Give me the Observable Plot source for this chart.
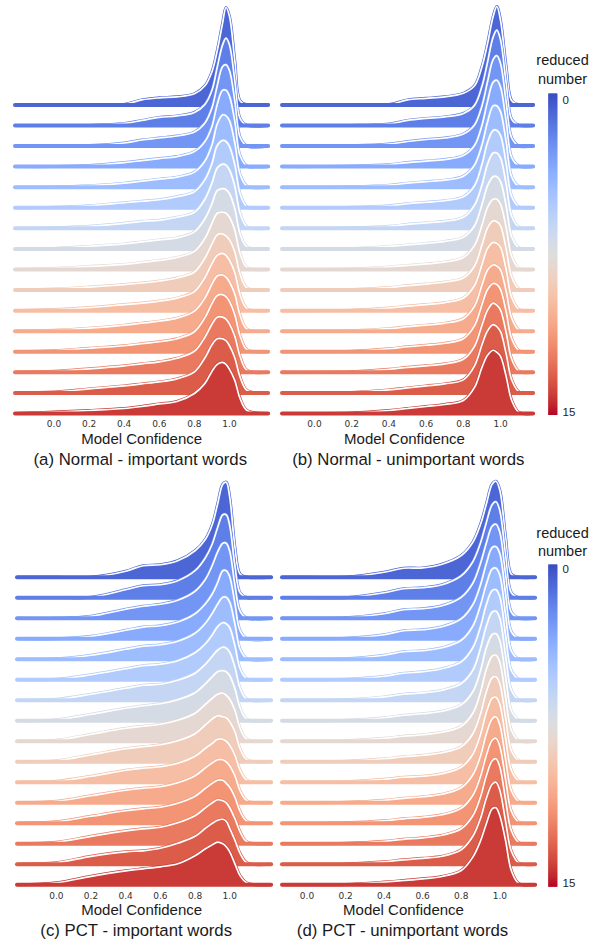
<!DOCTYPE html>
<html>
<head>
<meta charset="utf-8">
<script src="https://cdn.jsdelivr.net/npm/d3@7"></script>
<script src="https://cdn.jsdelivr.net/npm/@observablehq/plot@0.6"></script>
<style>
  body { margin: 0; background: #fff; }
  #root { position: relative; width: 598px; height: 943px; overflow: hidden; font-family: "Liberation Sans", Arial, sans-serif; color: #1a1a1a; }
  .panel { position: absolute; }
  .lbl { position: absolute; transform: translate(-50%, -50%); white-space: nowrap; line-height: 1; }
  .axlbl { font-size: 15px; }
  .cap { font-size: 16.8px; }
  .cbt { font-size: 14.5px; }
</style>
</head>
<body>
<div id="root"></div>
<script>
// ---------------- data ----------------
// sample positions on the "Model Confidence" axis
const confidenceGrid = [0.0, 0.2, 0.4, 0.5, 0.6, 0.7, 0.8, 0.86, 0.9, 0.93, 0.96, 0.98, 1.0, 1.03, 1.06, 1.1];
const tickValues = [0.0, 0.2, 0.4, 0.6, 0.8, 1.0];
const reducedNumbers = [0, 1, 2, 3, 4, 5, 6, 7, 8, 9, 10, 11, 12, 13, 14, 15];

// KDE support (where each panel's density drops to zero)
const extentNormalImportant = [-0.219, 1.222];
const extentNormalUnimportant = [-0.172, 1.177];
const extentPctImportant = [-0.224, 1.241];
const extentPctUnimportant = [-0.127, 1.185];

// density (x10) per reduced number (rows 0..15), at confidenceGrid
const normalImportant = [
  [0, 0, 0.5, 5, 7, 8, 11, 19, 33, 54, 81, 97, 88, 44, 4, 0],
  [0, 0, 2, 5, 8, 9.5, 13, 21, 35, 58, 80, 87, 80, 45, 7, 0],
  [0, 0.5, 3, 6, 8, 10, 14, 23, 38, 60, 79, 81, 75, 45, 9, 0],
  [0, 1, 4, 6, 8, 10, 15, 25, 40, 62, 76, 76, 70, 45, 11, 0.5],
  [0.3, 1.5, 4, 6, 8, 10, 15, 26, 42, 63, 72, 71, 66, 44, 13, 1],
  [0.5, 2, 5, 6.5, 8, 11, 16, 28, 44, 62, 67, 66, 61, 43, 14, 1],
  [0.5, 2, 5, 7, 8, 11, 16, 29, 45, 60, 64, 63, 58, 42, 15, 1.5],
  [0.5, 2.5, 5, 7, 9, 11, 17, 30, 45, 58, 60, 59, 55, 40, 15, 2],
  [1, 3, 5, 7, 9, 12, 18, 31, 46, 56, 57, 56, 52, 39, 16, 2],
  [1, 3, 5.5, 7, 9, 12, 18, 32, 46, 55, 56, 54, 50, 38, 16, 2],
  [1, 3, 6, 7.5, 9.5, 12.5, 19, 33, 47, 55, 57, 55, 50, 38, 16, 2],
  [1, 3, 6, 8, 10, 13, 20, 33, 47, 55, 56, 54, 49, 37, 16, 2],
  [1, 3.5, 6, 8, 10, 13, 20, 34, 48, 56, 57, 55, 50, 37, 16, 2],
  [1, 3.5, 6.5, 8.5, 10.5, 14, 21, 35, 48, 55, 55, 53, 48, 36, 16, 2],
  [1, 4, 7, 9, 11, 14, 21, 35, 48, 54, 54, 52, 47, 35, 16, 2.5],
  [1.5, 3, 5, 7, 9.5, 12, 20, 30, 42, 49, 51, 49, 44, 33, 15, 3]
];
const normalUnimportant = [
  [0, 0, 0.3, 5, 6.5, 8, 11.5, 19, 38, 61, 88, 98, 84, 38, 4, 0],
  [0, 0, 1.5, 5, 7, 8.5, 12, 20, 39, 63, 88, 95, 85, 42, 6, 0],
  [0, 0.3, 2, 4.5, 6.5, 8, 12, 21, 40, 64, 86, 90, 82, 44, 8, 0],
  [0, 0.5, 2, 4, 5.5, 7, 11, 21, 41, 65, 84, 86, 79, 45, 9, 0.5],
  [0, 0.5, 2, 4, 5.5, 7, 11, 22, 42, 65, 81, 81, 75, 45, 10, 0.5],
  [0, 0.5, 2, 4, 5.5, 7, 11, 22, 43, 65, 77, 77, 72, 44, 11, 1],
  [0, 0.5, 2, 4, 5.5, 7, 11, 23, 43, 64, 75, 75, 70, 44, 12, 1],
  [0, 0.5, 2.5, 4, 5.5, 7.5, 11.5, 23, 44, 63, 72, 72, 67, 43, 12, 1],
  [0, 0.5, 2.5, 4, 5.5, 7.5, 12, 24, 44, 62, 70, 70, 65, 42, 13, 1],
  [0, 0.5, 2.5, 4.5, 6, 8, 12, 24, 45, 62, 69, 68, 64, 41, 13, 1],
  [0, 0.5, 2.5, 4.5, 6, 8, 12.5, 25, 46, 62, 68, 67, 63, 41, 13, 1],
  [0, 0.5, 2.5, 4.5, 6, 8, 12.5, 25, 46, 61, 66, 65, 61, 40, 13, 1],
  [0, 0.5, 3, 5, 6.5, 8.5, 13, 26, 47, 62, 68, 67, 62, 40, 13, 1],
  [0, 0.5, 3, 5, 6.5, 8.5, 13, 26, 47, 62, 69, 67, 62, 40, 13, 1],
  [0, 0.5, 3, 5, 7, 9, 13, 27, 48, 62, 68, 66, 61, 39, 13, 1],
  [0, 0.5, 3, 5, 7, 9, 13, 26, 46, 58, 63, 61, 57, 37, 13, 1]
];
const pctImportant = [
  [0, 0, 6, 11.5, 12.5, 16.5, 26.5, 38, 53, 73, 93, 95, 80, 30, 3, 0],
  [0, 0.5, 8, 12, 13, 17, 27, 40, 54, 70, 83, 83, 72, 32, 5, 0],
  [0, 2, 9, 12, 14, 18, 27, 39, 53, 66, 75, 75, 67, 33, 7, 0],
  [0, 2.5, 8.5, 11.7, 13, 16.7, 25, 35, 45, 56, 68, 68, 62, 35, 8, 0],
  [0.5, 4, 10, 13, 14.5, 18, 26, 36, 46, 55, 62, 62, 57, 35, 10, 0.5],
  [0.5, 5, 11, 14, 15.5, 19, 27, 36, 45, 53, 57, 56, 52, 34, 11, 1],
  [1, 6, 12, 15, 16, 20, 27, 36, 44, 50, 53, 52, 48, 33, 12, 1],
  [1, 6.5, 12.5, 15, 17, 21, 28, 37, 44, 49, 50, 49, 45, 32, 13, 1.5],
  [1, 7, 13, 15, 17, 21, 28, 37, 43, 47, 48, 46, 42, 31, 13, 2],
  [1, 7, 13, 15, 17, 21, 28, 37, 43, 46, 45, 44, 40, 30, 13, 2],
  [1, 6, 12, 14, 15.5, 19, 26, 34, 39, 43, 43, 41, 37, 27, 12, 2],
  [1.5, 7, 12.5, 14.5, 16, 20, 27, 35, 40, 43, 43, 41, 37, 27, 12, 2],
  [1.5, 7, 12.5, 14.5, 16, 20, 27, 35, 40, 43, 43, 40, 36, 26, 12, 2],
  [1.5, 7.5, 13, 15, 16.5, 21, 28, 36, 41, 44, 43, 41, 36, 25, 12, 2],
  [1.5, 8, 12.5, 13.5, 16, 21, 28, 36, 41, 44, 45, 43, 36, 24, 11, 1.5],
  [2, 8.5, 14, 16, 18, 21, 29, 36, 40, 42.6, 41, 38, 33, 21, 9, 1.7]
];
const pctUnimportant = [
  [0, 0, 5, 9, 9.3, 13, 21.7, 35, 53, 73, 93, 96, 87, 40, 3, 0],
  [0, 0, 5, 9, 10, 13, 22, 36, 55, 75, 93, 96, 87, 42, 5, 0],
  [0, 0.5, 4.5, 8.5, 9.5, 12.5, 21, 35, 55, 75, 92, 94, 86, 43, 6, 0],
  [0, 0.5, 4, 8, 9, 12, 20, 34, 54, 75, 91, 92, 85, 44, 7, 0],
  [0, 0.5, 4, 7.5, 8.5, 11.5, 19, 33, 54, 75, 90, 91, 84, 44, 8, 0],
  [0, 0.5, 3.5, 6.5, 8, 11, 18, 32, 53, 75, 89, 90, 83, 44, 9, 0.5],
  [0, 0.5, 3.3, 6, 7.3, 10, 16.7, 30, 52, 74, 88, 89, 82, 44, 10, 0.5],
  [0, 0.5, 3, 5.5, 7, 9.5, 16, 29, 50, 73, 86, 87, 80, 44, 10, 0.5],
  [0, 0.5, 3, 5, 6.5, 9, 15, 28, 49, 72, 85, 86, 79, 44, 11, 0.5],
  [0, 0.5, 3, 5, 6.5, 9, 15, 28, 48, 70, 84, 85, 78, 44, 11, 1],
  [0, 0.5, 3, 5, 6, 8.5, 15, 28, 48, 70, 84, 85, 78, 44, 12, 1],
  [0, 0.5, 2.5, 4.5, 6, 8.5, 15, 28, 47, 69, 84, 86, 78, 44, 12, 1],
  [0, 0.5, 2.5, 4.5, 6, 8.5, 15, 28, 47, 68, 83, 85, 77, 44, 12, 1],
  [0, 0.5, 2.5, 4.5, 6, 8.5, 15, 28, 47, 68, 83, 85, 77, 44, 13, 1],
  [0, 0.3, 2.5, 4.5, 6, 8, 14.5, 28, 46, 66, 80, 82, 74, 43, 13, 1],
  [0, 0.3, 2.7, 4.3, 6, 8.3, 14.3, 27.7, 44, 61, 76, 77, 69, 44, 14, 1]
];

// matplotlib "coolwarm" colormap stops
const coolwarmStops = ["#3b4cc0","#445acc","#4d68d7","#5775e1","#6282ea","#6c8ef1","#779af7","#82a5fb",
  "#8db0fe","#98b9ff","#a3c2fe","#aec9fd","#b8d0f9","#c2d5f4","#ccd9ee","#d5dbe6","#dddddd","#e5d8d1",
  "#ecd3c5","#f1ccb9","#f5c4ad","#f7bba0","#f7b194","#f7a688","#f49a7b","#f18d6f","#ec7f63","#e57058",
  "#de604d","#d55042","#cb3e38","#c0282f","#b40426"];
const coolwarm = d3.piecewise(d3.interpolateRgb, coolwarmStops);

// ---------------- layout ----------------
const rowGap = 20.5;
const curve = "catmull-rom";
const root = document.getElementById("root");

const panels = [
  {rows: normalImportant, extent: extentNormalImportant, left: 0, top: 0, width: 276, xRange: [15, 268], yBase: 413, yMax: 411.5, pad: 7,
   axisLabel: [141.7, 438.3], caption: "(a) Normal - important words", capPos: [140.3, 460]},
  {rows: normalUnimportant, extent: extentNormalUnimportant, left: 276, top: 0, width: 264, xRange: [6, 257], yBase: 413, yMax: 411.5, pad: 7,
   axisLabel: [404.5, 438.3], caption: "(b) Normal - unimportant words", capPos: [408.3, 460]},
  {rows: pctImportant, extent: extentPctImportant, left: 0, top: 470, width: 276, xRange: [17, 271], yBase: 414.3, yMax: 414.2, pad: 7.5,
   axisLabel: [141.7, 909.3], caption: "(c) PCT - important words", capPos: [136.2, 930.7]},
  {rows: pctUnimportant, extent: extentPctUnimportant, left: 276, top: 470, width: 264, xRange: [6, 259], yBase: 414.3, yMax: 414.2, pad: 7.5,
   axisLabel: [403.5, 909], caption: "(d) PCT - unimportant words", capPos: [402.5, 930.7]}
];

function addLabel(text, cls, x, y) {
  const d = document.createElement("div");
  d.className = "lbl " + cls;
  d.textContent = text;
  d.style.left = x + "px";
  d.style.top = y + "px";
  root.appendChild(d);
}

for (const p of panels) {
  const [lo, hi] = p.extent;
  const marks = [];
  reducedNumbers.forEach((n, i) => {
    const base = (15 - i) * rowGap;
    const pts = [{x: lo, d: 0}, ...confidenceGrid.map((x, k) => ({x, d: p.rows[i][k]})), {x: hi, d: 0}];
    marks.push(
      Plot.area(pts, {x1: "x", y1: () => base, y2: (q) => base + q.d, fill: () => n, curve}),
      Plot.line(pts, {x: "x", y: (q) => base + q.d, stroke: () => n, strokeWidth: 3, curve}),
      Plot.line(pts, {x: "x", y: (q) => base + q.d, stroke: "white", strokeWidth: 1.7, curve}),
      Plot.ruleY([base], {x1: () => lo, x2: () => hi, stroke: () => n, strokeWidth: 4, strokeLinecap: "round"})
    );
  });
  const height = 432;
  const svg = Plot.plot({
    width: p.width,
    height,
    marginTop: 0, marginLeft: 0, marginRight: 0,
    marginBottom: height - p.yBase,
    style: {fontFamily: "'DejaVu Sans', sans-serif", fontSize: "9px", color: "#333", background: "transparent", overflow: "visible"},
    x: {domain: p.extent, range: p.xRange, ticks: tickValues, tickFormat: ".1f", tickSize: 0, tickPadding: p.pad, label: null},
    y: {domain: [0, p.yMax], range: [p.yBase, 0], axis: null},
    color: {type: "linear", domain: [-1, 16], interpolate: coolwarm},
    marks
  });
  const wrap = document.createElement("div");
  wrap.className = "panel";
  wrap.style.left = p.left + "px";
  wrap.style.top = p.top + "px";
  svg.style.width = p.width + "px";
  svg.style.height = height + "px";
  wrap.appendChild(svg);
  root.appendChild(wrap);
  addLabel("Model Confidence", "axlbl", p.axisLabel[0], p.axisLabel[1]);
  addLabel(p.caption, "cap", p.capPos[0], p.capPos[1]);
}

// ---------------- colorbars ----------------
const rampSamples = d3.range(0, 15, 0.05);
const colorbars = [
  {top: 0, yRange: [93.3, 415], dy0: 6.2, dy15: -3.2, title: [60, 78.5]},
  {top: 470, yRange: [94.3, 416.7], dy0: 5, dy15: -4, title: [532.5, 551]}
];
for (const c of colorbars) {
  const svg = Plot.plot({
    width: 58, height: 440,
    margin: 0,
    style: {fontFamily: "'Liberation Sans', Arial, sans-serif", fontSize: "11.5px", color: "#222", background: "transparent", overflow: "visible"},
    x: {domain: [0, 1], range: [8.3, 17.3], axis: null},
    y: {domain: [0, 15], range: c.yRange, axis: null},
    color: {type: "linear", domain: [0, 15], interpolate: coolwarm},
    marks: [
      Plot.rect(rampSamples, {x1: () => 0, x2: () => 1, y1: (v) => v, y2: (v) => Math.min(15, v + 0.1), fill: (v) => v + 0.025}),
      Plot.text([reducedNumbers[0]], {x: () => 1, y: (v) => v, text: (v) => String(v), textAnchor: "start", dx: 4.7, dy: c.dy0, fill: "#222"}),
      Plot.text([reducedNumbers[15]], {x: () => 1, y: (v) => v, text: (v) => String(v), textAnchor: "start", dx: 4.7, dy: c.dy15, fill: "#222"})
    ]
  });
  const wrap = document.createElement("div");
  wrap.className = "panel";
  wrap.style.left = "540px";
  wrap.style.top = c.top + "px";
  svg.style.width = "58px";
  svg.style.height = "440px";
  wrap.appendChild(svg);
  root.appendChild(wrap);
  addLabel("reduced", "cbt", 562.5, c.title[0]);
  addLabel("number", "cbt", 562.5, c.title[1]);
}
</script>
</body>
</html>
